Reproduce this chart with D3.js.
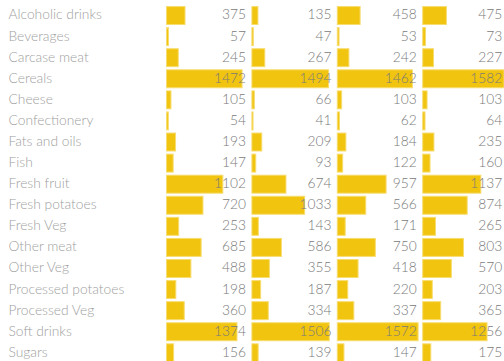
<!DOCTYPE html>
<html><head><meta charset="utf-8">
<script src="https://cdn.jsdelivr.net/npm/d3@7"></script>
<style>html,body{margin:0;padding:0;background:#fff;overflow:hidden}</style>
</head><body>
<svg id="c" width="504" height="361"></svg>
<script>
const categories = ["Alcoholic drinks","Beverages","Carcase meat","Cereals","Cheese","Confectionery","Fats and oils","Fish","Fresh fruit","Fresh potatoes","Fresh Veg","Other meat","Other Veg","Processed potatoes","Processed Veg","Soft drinks","Sugars"];
const england  = [375,57,245,1472,105,54,193,147,1102,720,253,685,488,198,360,1374,156];
const wales    = [135,47,267,1494,66,41,209,93,674,1033,143,586,355,187,334,1506,139];
const scotland = [458,53,242,1462,103,62,184,122,957,566,171,750,418,220,337,1572,147];
const nireland = [475,73,227,1582,103,64,235,160,1137,874,265,803,570,203,365,1256,175];
const series = [england, wales, scotland, nireland];

const svg = d3.select("#c");
const y = d3.scaleBand().domain(categories).range([5, 5 + 17 * 21.08]).paddingInner(0.1).paddingOuter(0.05);
const col = d3.scaleLinear().domain([0, 1]).range([166, 251.4]);
const x = d3.scaleLinear().domain([0, 1582]).range([0, 82.3]);

svg.append("g").selectAll("text").data(categories).join("text")
  .attr("x", 8.5).attr("y", d => y(d) + y.bandwidth() / 2 + 0.5)
  .attr("dominant-baseline", "middle")
  .style("font-family", "Lato, sans-serif").style("font-weight", 300)
  .style("font-size", "13.8px").style("fill", "#a0a0a0")
  .text(d => d);

series.forEach((vals, i) => {
  const g = svg.append("g").attr("transform", `translate(${col(i)},0)`);
  g.selectAll("rect").data(vals).join("rect")
    .attr("x", 0.5).attr("y", (d, j) => y(categories[j]) + 0.5)
    .attr("width", d => Math.max(0, x(d) - 1)).attr("height", y.bandwidth() - 1)
    .attr("fill", "#f1c40f").attr("stroke", "#f7dc6f").attr("stroke-width", 1);
  g.selectAll("text").data(vals).join("text")
    .attr("x", 80).attr("y", (d, j) => y(categories[j]) + y.bandwidth() / 2 + 0.5)
    .attr("text-anchor", "end").attr("dominant-baseline", "middle")
    .style("font-family", "Lato, sans-serif").style("font-weight", 300)
    .style("font-size", "13.8px").style("fill", "#7a7a7a")
    .text(d => d);
});
</script>
</body></html>
